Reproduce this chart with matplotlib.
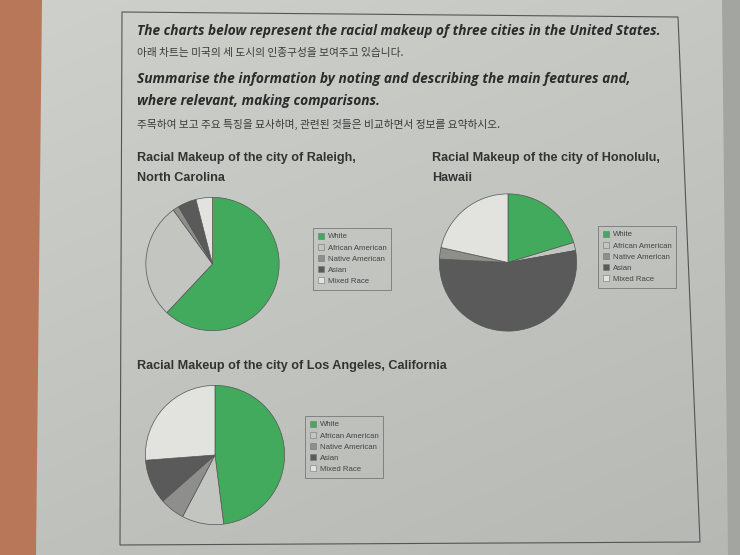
import matplotlib
matplotlib.use("Agg")
import matplotlib.pyplot as plt
import numpy as np
from matplotlib.patches import Patch, Polygon

# ---- data ----
categories = ["White", "African American", "Native American", "Asian", "Mixed Race"]
raleigh = [62, 28, 1.5, 4.5, 4]
honolulu = [20.3, 1.9, 2.7, 53.6, 21.5]
los_angeles = [48, 9.7, 5.8, 10.3, 26.2]
# clockwise drawing order of the slices (indices into categories)
raleigh_order = [0, 1, 2, 3, 4]
honolulu_order = [0, 1, 3, 2, 4]
la_order = [0, 1, 2, 3, 4]

titles = {
    "raleigh": ["Racial Makeup of the city of Raleigh,", "North Carolina"],
    "honolulu": ["Racial Makeup of the city of Honolulu,", "Hawaii"],
    "la": ["Racial Makeup of the city of Los Angeles, California"],
}
header_lines = [
    "The charts below represent the racial makeup of three cities in the United States.",
    "아래 차트는 미국의 세 도시의 인종구성을 보여주고 있습니다.",
    "Summarise the information by noting and describing the main features and,",
    "where relevant, making comparisons.",
    "주목하여 보고 주요 특징을 묘사하며, 관련된 것들은 비교하면서 정보를 요약하시오.",
]

colors = ["#42aa5c", "#c3c5c1", "#8e8f8d", "#5a5a5a", "#e2e3df"]

W, H = 740, 555
fig = plt.figure(figsize=(W / 100, H / 100), dpi=100)


def fx(x):
    return x / W


def fy(y):
    return 1 - y / H


# ---- background (photo of page) ----
bg = fig.add_axes([0, 0, 1, 1])
bg.set_xlim(0, W)
bg.set_ylim(H, 0)
bg.axis("off")
yy, xx = np.mgrid[0:H, 0:W]
shade = 0.81 - 0.06 * (yy / H) - 0.035 * (xx / W)
img = np.dstack([shade * 1.0, shade * 1.01, shade * 0.985])
img = np.clip(img, 0, 1)
bg.imshow(img, extent=[0, W, H, 0], aspect="auto", zorder=0)
# wood strip on the left
bg.add_patch(Polygon([[0, 0], [42, 0], [36, H], [0, H]], closed=True,
                     facecolor="#b87758", edgecolor="none", zorder=1))
# fold shadow on the right
bg.add_patch(Polygon([[722, 0], [740, 0], [740, H], [728, H]], closed=True,
                     facecolor="#a3a5a1", edgecolor="none", zorder=1))
# page frame
bg.add_patch(Polygon([[122, 12], [678, 17], [700, 542], [120, 545]], closed=True,
                     facecolor="none", edgecolor="#555555", linewidth=0.8, zorder=2))

# ---- header text ----
head_font = ["Open Sans", "DejaVu Sans"]
kor_font = ["Noto Sans CJK KR", "DejaVu Sans"]
fig.text(fx(137), fy(31), header_lines[0], fontsize=9.85, fontweight="bold",
         fontstyle="italic", family=head_font, color="#2b2b2b", va="center")
fig.text(fx(137), fy(53), header_lines[1], fontsize=7.7, family=kor_font,
         color="#3a3a3a", va="center")
fig.text(fx(137), fy(79), header_lines[2], fontsize=9.9, fontweight="bold",
         fontstyle="italic", family=head_font, color="#2b2b2b", va="center")
fig.text(fx(137), fy(101), header_lines[3], fontsize=9.9, fontweight="bold",
         fontstyle="italic", family=head_font, color="#2b2b2b", va="center")
fig.text(fx(137), fy(124), header_lines[4], fontsize=7.7, family=kor_font,
         color="#3a3a3a", va="center")

title_font = ["Liberation Sans", "DejaVu Sans"]


def draw_title(lines, x, y):
    for i, line in enumerate(lines):
        fig.text(fx(x), fy(y + i * 20), line, fontsize=9.1, fontweight="bold",
                 family=title_font, color="#333333", va="center")


def draw_pie(values, order, cx, cy, r):
    ax = fig.add_axes([fx(cx - r), fy(cy + r), 2 * r / W, 2 * r / H])
    vals = [values[i] for i in order]
    cols = [colors[i] for i in order]
    ax.pie(vals, colors=cols, startangle=90, counterclock=False, radius=1,
           wedgeprops=dict(edgecolor="#555555", linewidth=0.5))
    ax.set_xlim(-1.02, 1.02)
    ax.set_ylim(-1.02, 1.02)
    ax.set_aspect("auto")
    ax.axis("off")


def draw_legend(x0, y0, x1, y1):
    handles = [Patch(facecolor=c, edgecolor="#777777", linewidth=0.4) for c in colors]
    leg = fig.legend(handles, categories, loc="upper left",
                     bbox_to_anchor=(fx(x0), fy(y0)), fontsize=5.6,
                     frameon=True, fancybox=False, edgecolor="#666666",
                     facecolor="none", handlelength=0.8, handleheight=0.8,
                     handletextpad=0.5, labelspacing=0.45, borderpad=0.6,
                     borderaxespad=0)
    leg.get_frame().set_linewidth(0.6)
    for t in leg.get_texts():
        t.set_color("#444444")
        t.set_family(title_font)
    return leg


draw_title(titles["raleigh"], 137, 158)
draw_title(titles["honolulu"], 432, 158)
draw_title(titles["la"], 137, 366)

draw_pie(raleigh, raleigh_order, 212.5, 264, 68)
draw_pie(honolulu, honolulu_order, 508, 262.5, 70)
draw_pie(los_angeles, la_order, 215, 455, 71)

draw_legend(313, 228, 392, 292)
draw_legend(598, 226, 675, 290)
draw_legend(305, 416, 386, 482)

fig.savefig("out.png", dpi=100)
